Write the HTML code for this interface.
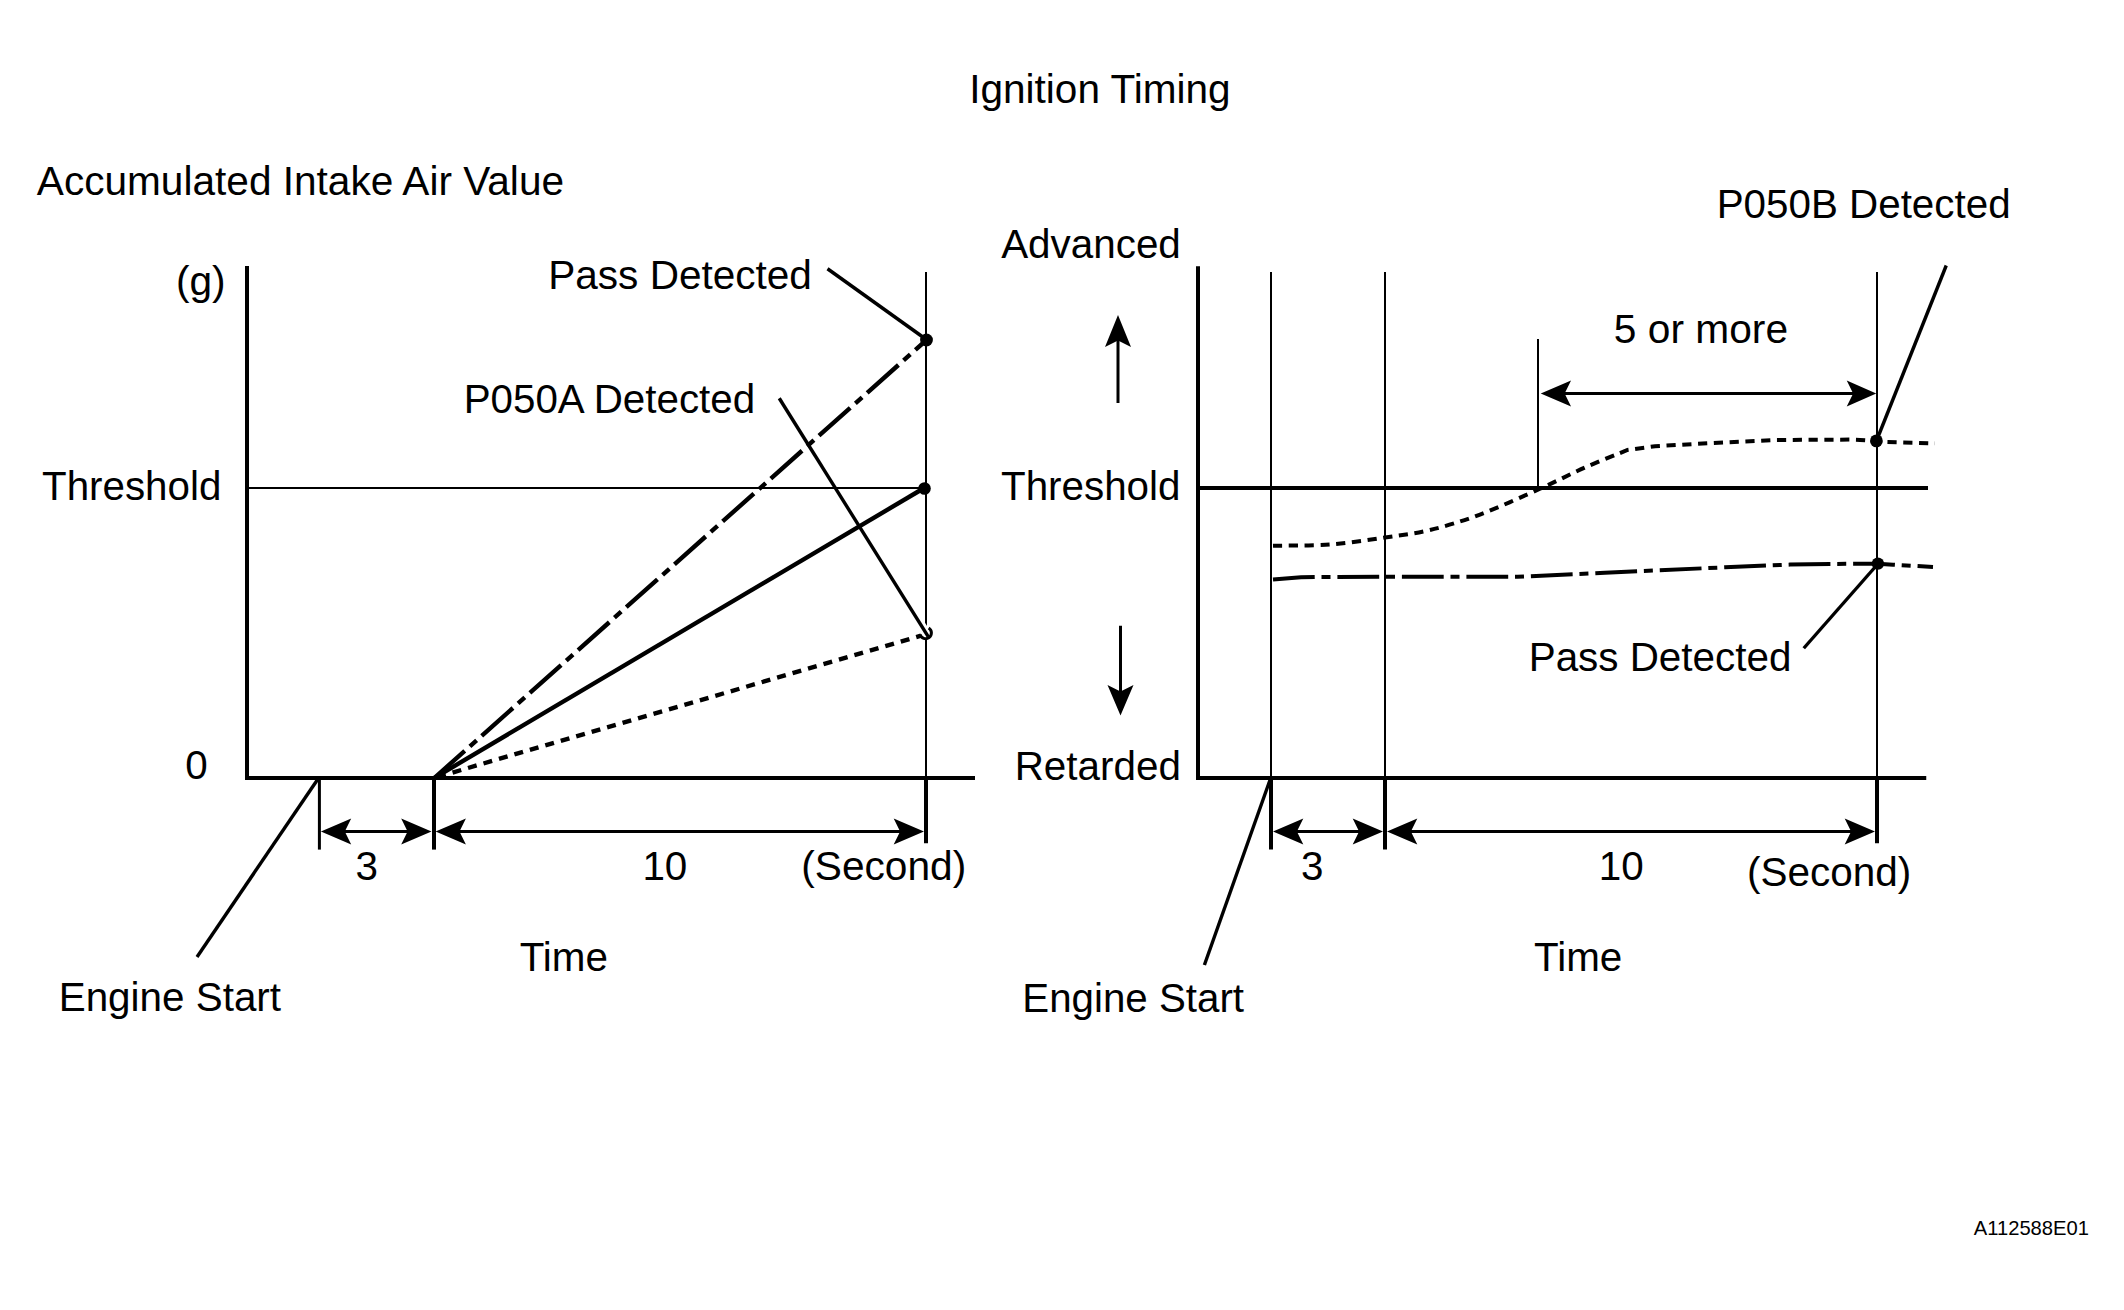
<!DOCTYPE html>
<html><head><meta charset="utf-8"><title>Ignition Timing</title>
<style>
html,body{margin:0;padding:0;background:#fff;}
body{width:2124px;height:1310px;overflow:hidden;}
svg{display:block;}
text{font-family:"Liberation Sans",Arial,sans-serif;font-size:40px;fill:#000;}
.k{stroke:#000;stroke-width:4;fill:none;}
.m{stroke:#000;stroke-width:3;fill:none;}
.t{stroke:#000;stroke-width:3.4;fill:none;}
.c{stroke:#000;stroke-width:4.4;fill:none;}
.n{stroke:#000;stroke-width:2;fill:none;}
</style></head><body>
<svg width="2124" height="1310" viewBox="0 0 2124 1310">
<rect width="2124" height="1310" fill="#fff"/>
<g id="left-chart">
<path class="k" d="M247 266V778H975"/>
<path class="n" d="M247 488H926"/>
<path class="n" d="M926 272V778"/>
<path d="M919.1 622L926.6 634" stroke="#fff" stroke-width="9" fill="none"/>
<circle cx="925.6" cy="632.9" r="7.2" fill="#fff"/>
<path d="M928.67 627.98A5.8 5.8 0 1 1 920 634.4" stroke="#000" stroke-width="3" fill="none"/>
<path class="k" d="M926 778V843.25"/>
<path class="m" d="M319.4 778V849.6"/>
<path class="k" d="M434 778V849.6"/>
<path class="t" d="M318.6 778L197 957"/>
<path class="c" d="M434.5 777.8L923.75 488.25"/>
<path class="c" d="M926.5 340L434.5 777.8" stroke-dasharray="41.8 6.8 9 6.9" stroke-dashoffset="26.9"/>
<path class="c" d="M921 635.7L434.5 777.8" stroke-dasharray="9 7.1" stroke-dashoffset="4"/>
<path class="t" d="M827.5 268.75L927 340"/>
<path class="t" d="M779.25 398.25L928.2 636.7"/>
<circle cx="926.5" cy="340" r="6.4"/>
<circle cx="924.5" cy="488.5" r="6.3"/>
<path class="m" d="M340 831.5H412"/>
<path d="M320.90 831.50L351.20 818.60L344.80 831.50L351.20 844.40Z"/>
<path d="M431.50 831.50L401.20 818.60L407.60 831.50L401.20 844.40Z"/>
<path class="m" d="M455 831.5H905"/>
<path d="M435.60 831.50L465.90 818.60L459.50 831.50L465.90 844.40Z"/>
<path d="M924.00 831.50L893.70 818.60L900.10 831.50L893.70 844.40Z"/>
</g>
<g id="right-chart">
<path class="k" d="M1198 266.25V778H1926.25"/>
<path class="k" d="M1198 488H1928"/>
<path class="n" d="M1271 272V778"/>
<path class="n" d="M1385 272V778"/>
<path class="n" d="M1877 272V778"/>
<path class="n" d="M1538 339V489"/>
<path class="k" d="M1271 778V849.5"/>
<path class="k" d="M1385 778V849.5"/>
<path class="k" d="M1877 778V843.25"/>
<path class="t" d="M1270 780L1204.4 965"/>
<path class="t" d="M1946.25 265.5L1876.4 441"/>
<path class="t" d="M1803.75 648.25L1878 563.75"/>
<path class="k" d="M1273 545.75C1282.5 545.5 1311.3 545.9 1330 544.5C1348.7 543.1 1368.3 539.9 1385 537.5C1401.7 535.1 1414.2 533.8 1430 530C1445.8 526.2 1461.7 521.4 1480 514.5C1498.3 507.6 1522.5 496.6 1540 488.75C1557.5 480.9 1570.4 474.0 1585 467.5C1599.6 461.0 1620.4 452.9 1627.5 450L1655 446.25L1707.5 443.25L1775 440L1850 439.6L1860 439.9L1876.4 441L1884 442L1935 443.3" stroke-dasharray="9.2 6.6"/>
<path class="k" d="M1273 579.5L1301 577.2L1320 576.9L1517.5 576.8L1605 572.8L1725 567.3L1790 564.6L1830 563.9L1878 563.8L1893 564.7L1933 567" stroke-dasharray="41.8 6.8 9 6.9" stroke-dashoffset="0"/>
<circle cx="1876.4" cy="440.9" r="6.4"/>
<circle cx="1877.9" cy="563.6" r="6.2"/>
<path class="m" d="M1292 831.5H1364"/>
<path d="M1273.00 831.50L1303.30 818.60L1296.90 831.50L1303.30 844.40Z"/>
<path d="M1383.00 831.50L1352.70 818.60L1359.10 831.50L1352.70 844.40Z"/>
<path class="m" d="M1406 831.5H1856"/>
<path d="M1387.00 831.50L1417.30 818.60L1410.90 831.50L1417.30 844.40Z"/>
<path d="M1875.00 831.50L1844.70 818.60L1851.10 831.50L1844.70 844.40Z"/>
<path class="m" d="M1560 393.5H1858"/>
<path d="M1540.75 393.50L1571.05 380.60L1564.65 393.50L1571.05 406.40Z"/>
<path d="M1876.25 393.50L1846.75 380.60L1853.15 393.50L1846.75 406.40Z"/>
<path class="m" d="M1118 403V335"/>
<path d="M1118.00 315.00L1105.00 347.00L1118.00 340.60L1131.00 347.00Z"/>
<path class="m" d="M1120.5 625.75V696"/>
<path d="M1120.50 715.50L1107.50 685.00L1120.50 691.40L1133.50 685.00Z"/>
</g>
<g id="labels">
<text x="969.26" y="103.00" textLength="261.35" lengthAdjust="spacingAndGlyphs">Ignition Timing</text>
<text x="36.82" y="194.75" textLength="527.23" lengthAdjust="spacingAndGlyphs">Accumulated Intake Air Value</text>
<text x="175.98" y="295.00" textLength="49.64" lengthAdjust="spacingAndGlyphs">(g)</text>
<text x="548.28" y="288.75" textLength="263.59" lengthAdjust="spacingAndGlyphs">Pass Detected</text>
<text x="463.69" y="413.00" textLength="291.41" lengthAdjust="spacingAndGlyphs">P050A Detected</text>
<text x="42.09" y="500.00" textLength="179.25" lengthAdjust="spacingAndGlyphs">Threshold</text>
<text x="185.34" y="778.50" textLength="22.47" lengthAdjust="spacingAndGlyphs">0</text>
<text x="355.43" y="879.50" textLength="22.47" lengthAdjust="spacingAndGlyphs">3</text>
<text x="642.40" y="879.50" textLength="44.95" lengthAdjust="spacingAndGlyphs">10</text>
<text x="801.23" y="879.50" textLength="165.04" lengthAdjust="spacingAndGlyphs">(Second)</text>
<text x="519.68" y="970.75" textLength="88.28" lengthAdjust="spacingAndGlyphs">Time</text>
<text x="58.69" y="1011.25" textLength="222.36" lengthAdjust="spacingAndGlyphs">Engine Start</text>
<text x="1001.17" y="258.00" textLength="179.68" lengthAdjust="spacingAndGlyphs">Advanced</text>
<text x="1000.99" y="499.75" textLength="179.51" lengthAdjust="spacingAndGlyphs">Threshold</text>
<text x="1014.69" y="779.50" textLength="166.17" lengthAdjust="spacingAndGlyphs">Retarded</text>
<text x="1716.69" y="218.00" textLength="293.91" lengthAdjust="spacingAndGlyphs">P050B Detected</text>
<text x="1613.87" y="342.75" textLength="174.19" lengthAdjust="spacingAndGlyphs">5 or more</text>
<text x="1528.69" y="670.75" textLength="262.67" lengthAdjust="spacingAndGlyphs">Pass Detected</text>
<text x="1300.88" y="879.50" textLength="22.47" lengthAdjust="spacingAndGlyphs">3</text>
<text x="1598.78" y="879.50" textLength="44.95" lengthAdjust="spacingAndGlyphs">10</text>
<text x="1746.99" y="885.50" textLength="164.27" lengthAdjust="spacingAndGlyphs">(Second)</text>
<text x="1534.05" y="970.75" textLength="88.28" lengthAdjust="spacingAndGlyphs">Time</text>
<text x="1022.29" y="1011.60" textLength="221.75" lengthAdjust="spacingAndGlyphs">Engine Start</text>
<text x="1973.76" y="1234.90" textLength="115.23" lengthAdjust="spacingAndGlyphs" style="font-size:20.2px">A112588E01</text>
</g>
</svg>
</body></html>
